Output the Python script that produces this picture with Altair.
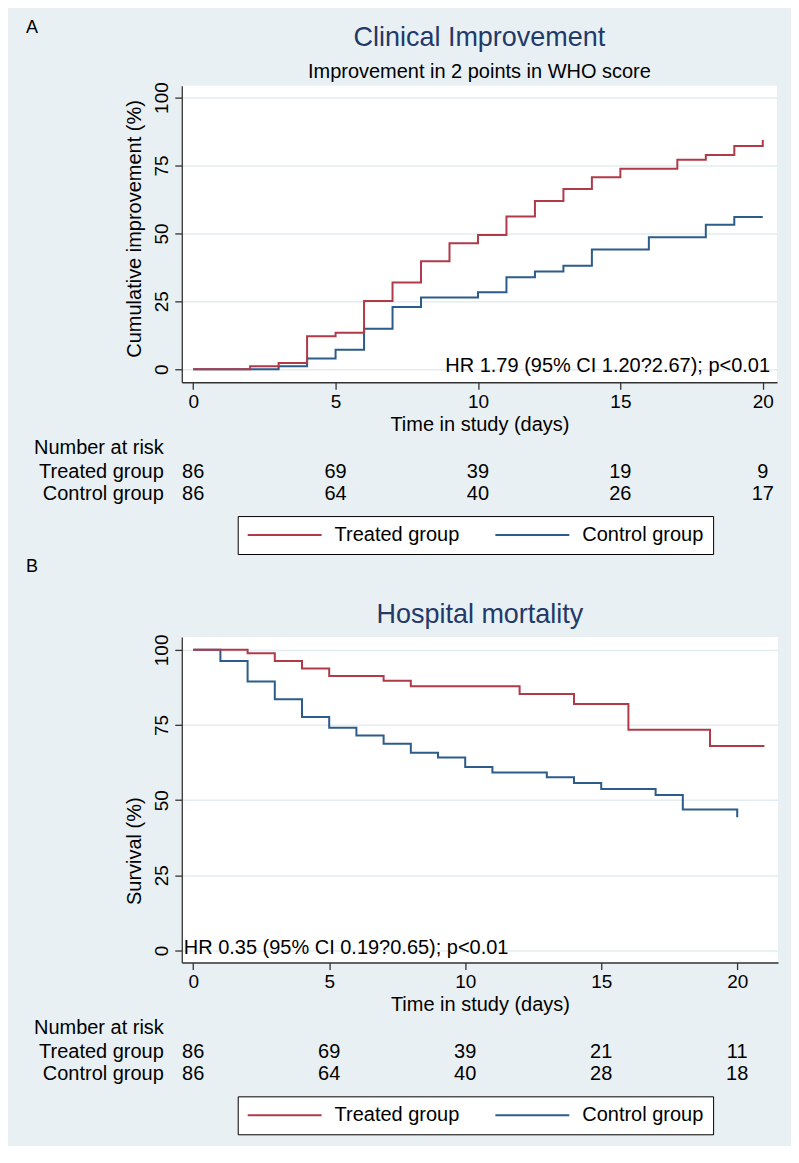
import altair as alt
import pandas as pd

FONT = "Liberation Sans"
BG = "#e9f0f3"
RED = "#b03a48"
BLUE = "#2b5c8a"
TITLE_COLOR = "#22396a"
AXIS_COLOR = "#333333"
GRID_COLOR = "#e3ecf0"

GROUPS = ["Treated group", "Control group"]
X_TICKS = [0, 5, 10, 15, 20]
Y_TICKS = [0, 25, 50, 75, 100]
RISK_TIMES = [0, 5, 10, 15, 20]

# ---------- Panel A: Clinical improvement (cumulative %) ----------
a_treated_days = [0, 2, 3, 4, 5, 6, 7, 8, 9, 10, 11, 12, 13, 14, 15, 17, 18, 19, 20]
a_treated_pct = [0, 1.1, 2.3, 12.1, 13.4, 25.1, 31.9, 39.7, 46.4, 49.4, 56.2, 61.9,
                 66.3, 70.7, 73.8, 77.1, 78.9, 82.2, 84.4]
a_control_days = [0, 3, 4, 5, 6, 7, 8, 10, 11, 12, 13, 14, 16, 18, 19, 20]
a_control_pct = [0, 1.1, 3.9, 7.2, 14.9, 22.9, 26.4, 28.3, 33.9, 36.0, 38.1, 44.1,
                 48.6, 53.2, 56.0, 56.0]
a_risk_treated = [86, 69, 39, 19, 9]
a_risk_control = [86, 64, 40, 26, 17]

# ---------- Panel B: Hospital mortality (survival %) ----------
b_treated_days = [0, 2, 3, 4, 5, 7, 8, 12, 14, 16, 19, 21]
b_treated_pct = [100, 98.9, 96.3, 93.8, 91.3, 89.7, 87.9, 85.3, 82.0, 73.4, 68.0, 68.0]
b_control_days = [0, 1, 2, 3, 4, 5, 6, 7, 8, 9, 10, 11, 13, 14, 15, 17, 18, 20]
b_control_pct = [100, 96.3, 89.5, 83.6, 77.7, 74.1, 71.5, 68.8, 65.8, 64.2, 61.0, 59.2,
                 57.6, 55.7, 53.7, 51.7, 46.9, 44.3]
b_risk_treated = [86, 69, 39, 21, 11]
b_risk_control = [86, 64, 40, 28, 18]


def text_layer(label, x, y, align="left", size=20, color="black"):
    df = pd.DataFrame({"label": [label]})
    return alt.Chart(df).mark_text(
        font=FONT, fontSize=size, color=color, align=align, baseline="middle"
    ).encode(x=alt.value(x), y=alt.value(y), text="label:N")


def panel(t_days, t_pct, c_days, c_pct, risk_t, risk_c, xdom, ydom, W, H,
          title, title_y, subtitle, subtitle_y, ytitle, ytitle_y, letter, letter_y,
          hr_text, hr_x, hr_y, hr_align):
    base_y = H  # x-axis line position
    rows = [base_y + 66, base_y + 90, base_y + 112]
    legend_y = base_y + 134

    xenc = alt.X(
        "day:Q",
        scale=alt.Scale(domain=xdom, nice=False, zero=False),
        axis=alt.Axis(
            values=X_TICKS, title="Time in study (days)", grid=False,
            domainColor=AXIS_COLOR, domainWidth=1.3, tickColor=AXIS_COLOR,
            tickWidth=1.3, tickSize=7, labelFont=FONT, labelFontSize=19,
            labelColor="black", labelPadding=3, titleFont=FONT, titleFontSize=20,
            titleFontWeight="normal", titleColor="black", titlePadding=3,
        ),
    )
    yenc = alt.Y(
        "pct:Q",
        scale=alt.Scale(domain=ydom, nice=False, zero=False),
        axis=alt.Axis(
            values=Y_TICKS, title=ytitle, grid=True, gridColor=GRID_COLOR,
            gridWidth=1.5, domainColor=AXIS_COLOR, domainWidth=1.3,
            tickColor=AXIS_COLOR, tickWidth=1.3, tickSize=7, labelFont=FONT,
            labelFontSize=19, labelColor="black", labelAngle=270,
            labelAlign="center", labelBaseline="bottom", labelPadding=3,
            titleFont=FONT, titleFontSize=20, titleFontWeight="normal",
            titleColor="black", titlePadding=8, titleY=ytitle_y,
        ),
    )
    color = alt.Color(
        "group:N",
        scale=alt.Scale(domain=GROUPS, range=[RED, BLUE]),
        legend=alt.Legend(
            title=None, orient="none", legendX=56, legendY=legend_y,
            direction="horizontal", fillColor="white", strokeColor="black",
            padding=9, symbolType="stroke", symbolSize=74 * 74,
            symbolStrokeWidth=2, clipHeight=20, labelFont=FONT,
            labelFontSize=20, labelColor="black", labelOffset=12,
            columnPadding=35, labelLimit=300,
        ),
    )

    df_t = pd.DataFrame({"day": t_days, "pct": t_pct, "group": "Treated group"})
    df_c = pd.DataFrame({"day": c_days, "pct": c_pct, "group": "Control group"})

    line_c = alt.Chart(df_c).mark_line(interpolate="step-after", strokeWidth=2).encode(
        x=xenc, y=yenc, color=color)
    line_t = alt.Chart(df_t).mark_line(interpolate="step-after", strokeWidth=2).encode(
        x=xenc, y=yenc, color=color)

    rt = pd.DataFrame({"day": RISK_TIMES, "n": risk_t})
    rc = pd.DataFrame({"day": RISK_TIMES, "n": risk_c})
    risk_t_layer = alt.Chart(rt).mark_text(
        font=FONT, fontSize=20, color="black", baseline="middle").encode(
        x=xenc, y=alt.value(rows[1]), text="n:Q")
    risk_c_layer = alt.Chart(rc).mark_text(
        font=FONT, fontSize=20, color="black", baseline="middle").encode(
        x=xenc, y=alt.value(rows[2]), text="n:Q")

    layers = [
        line_c, line_t, risk_t_layer, risk_c_layer,
        text_layer("Number at risk", -148, rows[0]),
        text_layer("Treated group", -18, rows[1], align="right"),
        text_layer("Control group", -18, rows[2], align="right"),
        text_layer(letter, -150, letter_y, align="center", size=18),
        text_layer(hr_text, hr_x, hr_y, align=hr_align),
        text_layer(title, W / 2, title_y, align="center", size=27, color=TITLE_COLOR),
    ]
    if subtitle:
        layers.append(text_layer(subtitle, W / 2, subtitle_y, align="center", size=20))
    return alt.layer(*layers).properties(width=W, height=H)


chart_a = panel(a_treated_days, a_treated_pct, a_control_days, a_control_pct,
                a_risk_treated, a_risk_control, [-0.4, 20.5], [-4.8, 104.4], 596, 297,
                "Clinical Improvement", -48, "Improvement in 2 points in WHO score", -14,
                "Cumulative improvement (%)", 143, "A", -58,
                "HR 1.79 (95% CI 1.20?2.67); p<0.01", 589, 281, "right")

chart_b = panel(b_treated_days, b_treated_pct, b_control_days, b_control_pct,
                b_risk_treated, b_risk_control, [-0.42, 21.5], [-4.0, 104.3], 597, 326,
                "Hospital mortality", -22, None, None,
                "Survival (%)", 214, "B", -70,
                "HR 0.35 (95% CI 0.19?0.65); p<0.01", 2, 311, "left")

chart = alt.vconcat(chart_a, chart_b, spacing=3).resolve_scale(
    color="independent", x="independent", y="independent"
).resolve_legend(color="independent").configure(
    background=BG, padding={"left": 17, "top": 10, "right": 13, "bottom": 10}
).configure_view(fill="white", stroke=None)

chart.save("out.html", embed_options={"renderer": "svg", "actions": False})
